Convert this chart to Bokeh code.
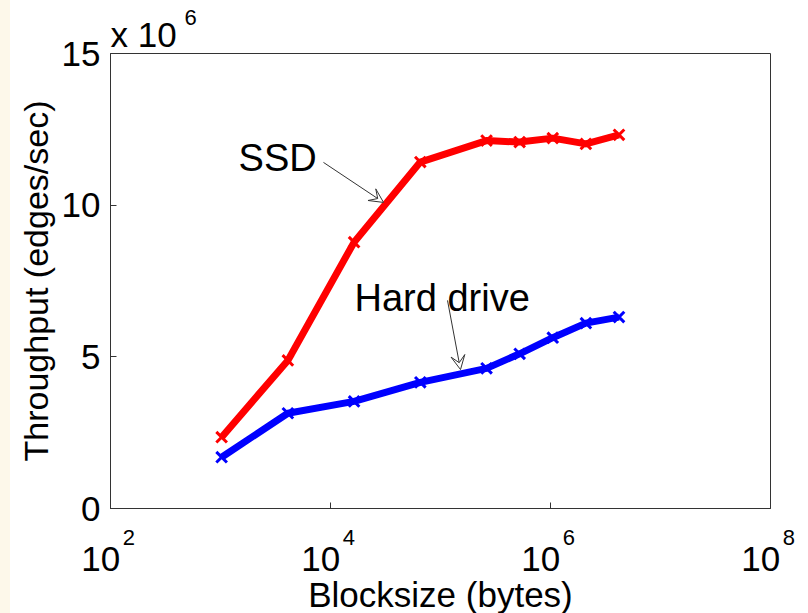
from bokeh.plotting import figure
from bokeh.models import (FixedTicker, Label, LogAxis, Title, Arrow, VeeHead,
                          Div, Range1d)
from bokeh.layouts import row
from bokeh.embed import file_html
from bokeh.resources import INLINE

# Block sizes in bytes and measured throughput (x 10^6 edges/sec)
block_sizes = [1024, 4096, 16384, 65536, 262144, 524288, 1048576, 2097152, 4194304]
ssd_throughput = [2.35, 4.88, 8.78, 11.42, 12.13, 12.08, 12.21, 12.02, 12.32]
hdd_throughput = [1.69, 3.14, 3.53, 4.16, 4.62, 5.10, 5.63, 6.11, 6.31]

x_tick_values = [1e2, 1e4, 1e6, 1e8]
x_tick_exponents = ["2", "4", "6", "8"]
y_tick_values = [0, 5, 10, 15]
y_tick_labels = ["0", "5", "10", "15"]

FONT = "Liberation Sans"
AXIS_COLOR = "#333333"
NBSP = "\u00a0"

p = figure(x_axis_type="log", x_range=Range1d(1e2, 1e8), y_range=Range1d(0, 15),
           frame_width=660, frame_height=455,
           min_border_left=100, min_border_right=38,
           min_border_top=53, min_border_bottom=105,
           title=None, output_backend="svg", toolbar_location=None)

p.background_fill_color = "white"
p.border_fill_color = "white"
p.outline_line_color = AXIS_COLOR
p.outline_line_width = 1
p.grid.grid_line_color = None

# Axes: ticks point inward, no minor ticks
for ax in (p.xaxis[0], p.yaxis[0]):
    ax.axis_line_color = AXIS_COLOR
    ax.major_tick_line_color = AXIS_COLOR
    ax.major_tick_in = 6
    ax.major_tick_out = 0
    ax.minor_tick_line_color = None
    ax.major_label_text_font = FONT
    ax.major_label_text_font_size = "35px"
    ax.major_label_text_color = "black"
    ax.axis_label_text_font = FONT
    ax.axis_label_text_font_style = "normal"
    ax.axis_label_text_color = "black"

# Decade labels: base "10" on the main axis, exponents on a second axis
p.xaxis.ticker = FixedTicker(ticks=x_tick_values)
p.xaxis.major_label_overrides = {v: "10" + NBSP * 2 for v in x_tick_values}
p.xaxis.major_label_standoff = 30

exp_axis = LogAxis(ticker=FixedTicker(ticks=x_tick_values),
                   major_label_overrides={v: NBSP * 6 + e for v, e in
                                          zip(x_tick_values, x_tick_exponents)},
                   axis_line_color=None, major_tick_line_color=None,
                   minor_tick_line_color=None,
                   major_label_text_font=FONT, major_label_text_font_size="22px",
                   major_label_text_color="black", major_label_standoff=-62,
                   axis_label="Blocksize (bytes)", axis_label_text_font=FONT,
                   axis_label_text_font_size="35px",
                   axis_label_text_font_style="normal",
                   axis_label_text_color="black", axis_label_standoff=22)
p.add_layout(exp_axis, "below")

p.yaxis.ticker = FixedTicker(ticks=y_tick_values)
p.yaxis.major_label_overrides = dict(zip(y_tick_values, y_tick_labels))
p.yaxis.major_label_standoff = 10
p.yaxis.axis_label = "Throughput (edges/sec)"
p.yaxis.axis_label_text_font_size = "34px"
p.yaxis.axis_label_standoff = 4

# Axis multiplier above the frame
p.add_layout(Title(text="x 10", align="left", offset=0, standoff=0,
                   text_font=FONT, text_font_size="35px",
                   text_font_style="normal", text_color="black"), "above")
p.add_layout(Title(text="6", align="left", offset=74, standoff=-25,
                   text_font=FONT, text_font_size="22px",
                   text_font_style="normal", text_color="black"), "above")

# Series
p.line(block_sizes, ssd_throughput, line_color="#ff0000", line_width=7,
       line_join="round")
p.scatter(block_sizes, ssd_throughput, marker="x", size=15, line_width=3,
          line_color="#ff0000")
p.line(block_sizes, hdd_throughput, line_color="#0000ff", line_width=7,
       line_join="round")
p.scatter(block_sizes, hdd_throughput, marker="x", size=15, line_width=3,
          line_color="#0000ff")

# Callouts
p.add_layout(Label(x=1460, y=11.57, text="SSD", text_align="left",
                   text_baseline="alphabetic", text_font=FONT,
                   text_font_size="38px", text_color="black"))
p.add_layout(Label(x=16520, y=6.956, text="Hard drive", text_align="left",
                   text_baseline="alphabetic", text_font=FONT,
                   text_font_size="38px", text_color="black"))

head_kw = dict(size=14, line_color="#333333", line_width=1, fill_color="white")
p.add_layout(Arrow(end=VeeHead(**head_kw), x_start=8630, y_start=11.41,
                   x_end=30340, y_end=10.09, line_color="#333333", line_width=1))
p.add_layout(Arrow(end=VeeHead(**head_kw), x_start=115800, y_start=6.86,
                   x_end=152000, y_end=4.58, line_color="#333333", line_width=1))

strip = Div(width=10, height=613, margin=0,
            styles={"background-color": "#fdf8ea"})
layout = row(strip, p, spacing=0)

open("out.html", "w").write(file_html(layout, INLINE))
